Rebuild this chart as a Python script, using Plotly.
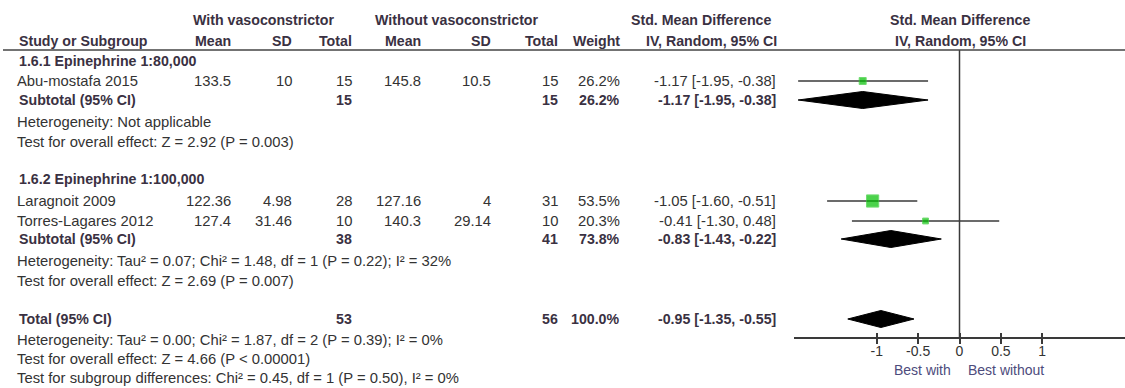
import plotly.graph_objects as go

W, H = 1125, 388

# ---- study-level data ----
studies = ["Abu-mostafa 2015", "Laragnoit 2009", "Torres-Lagares 2012"]
study_group = [0, 1, 1]
mean_with = ["133.5", "122.36", "127.4"]
sd_with = ["10", "4.98", "31.46"]
n_with = [15, 28, 10]
mean_without = ["145.8", "127.16", "140.3"]
sd_without = ["10.5", "4", "29.14"]
n_without = [15, 31, 10]
weights = [26.2, 53.5, 20.3]
smd = [-1.17, -1.05, -0.41]
ci_lo = [-1.95, -1.60, -1.30]
ci_hi = [-0.38, -0.51, 0.48]

# ---- subgroup data ----
groups = ["1.6.1 Epinephrine 1:80,000", "1.6.2 Epinephrine 1:100,000"]
sub_n_with = [15, 38]
sub_n_without = [15, 41]
sub_weight = [26.2, 73.8]
sub_smd = [-1.17, -0.83]
sub_lo = [-1.95, -1.43]
sub_hi = [-0.38, -0.22]
sub_het = ["Heterogeneity: Not applicable",
           "Heterogeneity: Tau² = 0.07; Chi² = 1.48, df = 1 (P = 0.22); I² = 32%"]
sub_test = ["Test for overall effect: Z = 2.92 (P = 0.003)",
            "Test for overall effect: Z = 2.69 (P = 0.007)"]

# ---- overall ----
tot_n_with = 53
tot_n_without = 56
tot_weight = 100.0
tot_smd = -0.95
tot_lo = -1.35
tot_hi = -0.55
tot_notes = ["Heterogeneity: Tau² = 0.00; Chi² = 1.87, df = 2 (P = 0.39); I² = 0%",
             "Test for overall effect: Z = 4.66 (P < 0.00001)",
             "Test for subgroup differences: Chi² = 0.45, df = 1 (P = 0.50), I² = 0%"]

tick_vals = [-1, -0.5, 0, 0.5, 1]
tick_text = ["-1", "-0.5", "0", "0.5", "1"]
favours = ["Best with", "Best without"]

# ---- layout of rows (pixel rows from top) ----
row_group = [61, 179]
row_study = [81, 201, 221]
row_sub = [100, 239]
row_het = [122, 261]
row_test = [142, 281]
row_total = 319
row_tot_notes = [340, 359, 378]
axis_y = 338
header_line_y = 50

FONT = "Liberation Sans, Arial, sans-serif"
TXT = "#333333"
BOLD = "#3a3142"
FAV = "#4d4b7c"
FS = 14.8
FS_B = 14.2

# column right edges
col = dict(mean1=233, sd1=294, n1=354, mean2=423, sd2=493, n2=560, wt=622, ci=778)

annotations = []


def txt(x, y, s, anchor="left", bold=False, color=None, size=None):
    annotations.append(dict(
        x=x / W, y=1 - y / H, xref="paper", yref="paper",
        text=f"<b>{s}</b>" if bold else s,
        showarrow=False, xanchor=anchor, yanchor="middle",
        font=dict(family=FONT, size=size or (FS_B if bold else FS),
                  color=color or (BOLD if bold else TXT)),
    ))


def ci_str(e, lo, hi):
    return f"{e:.2f} [{lo:.2f}, {hi:.2f}]"


# header
txt(263, 20, "With vasoconstrictor", "center", True)
txt(457, 20, "Without vasoconstrictor", "center", True)
txt(773, 20, "Std. Mean Difference", "right", True)
txt(960, 20, "Std. Mean Difference", "center", True)
txt(17, 41, "Study or Subgroup", "left", True)
for key, lab in [("mean1", "Mean"), ("sd1", "SD"), ("n1", "Total"),
                 ("mean2", "Mean"), ("sd2", "SD"), ("n2", "Total"), ("wt", "Weight")]:
    txt(col[key], 41, lab, "right", True)
txt(779, 41, "IV, Random, 95% CI", "right", True)
txt(960, 41, "IV, Random, 95% CI", "center", True)

# study rows
for i, name in enumerate(studies):
    y = row_study[i]
    txt(15, y, name)
    txt(col["mean1"], y, mean_with[i], "right")
    txt(col["sd1"], y, sd_with[i], "right")
    txt(col["n1"], y, str(n_with[i]), "right")
    txt(col["mean2"], y, mean_without[i], "right")
    txt(col["sd2"], y, sd_without[i], "right")
    txt(col["n2"], y, str(n_without[i]), "right")
    txt(col["wt"], y, f"{weights[i]:.1f}%", "right")
    txt(col["ci"], y, ci_str(smd[i], ci_lo[i], ci_hi[i]), "right")

# subgroup rows
for g, gname in enumerate(groups):
    txt(17, row_group[g], gname, "left", True)
    y = row_sub[g]
    txt(17, y, "Subtotal (95% CI)", "left", True)
    txt(col["n1"], y, str(sub_n_with[g]), "right", True)
    txt(col["n2"], y, str(sub_n_without[g]), "right", True)
    txt(col["wt"], y, f"{sub_weight[g]:.1f}%", "right", True)
    txt(col["ci"], y, ci_str(sub_smd[g], sub_lo[g], sub_hi[g]), "right", True)
    txt(15, row_het[g], sub_het[g])
    txt(15, row_test[g], sub_test[g])

# overall rows
txt(17, row_total, "Total (95% CI)", "left", True)
txt(col["n1"], row_total, str(tot_n_with), "right", True)
txt(col["n2"], row_total, str(tot_n_without), "right", True)
txt(col["wt"], row_total, f"{tot_weight:.1f}%", "right", True)
txt(col["ci"], row_total, ci_str(tot_smd, tot_lo, tot_hi), "right", True)
for y, s in zip(row_tot_notes, tot_notes):
    txt(15, y, s)

# favours labels
txt(922, 370, favours[0], "center", color=FAV, size=14)
txt(1006, 370, favours[1], "center", color=FAV, size=14)

fig = go.Figure()

# confidence interval whiskers
for i in range(len(studies)):
    fig.add_trace(go.Scatter(
        x=[ci_lo[i], ci_hi[i]], y=[row_study[i], row_study[i]],
        mode="lines", line=dict(color="#3a3a3a", width=1.5),
        hoverinfo="skip", showlegend=False))

# study squares, size by weight
fig.add_trace(go.Scatter(
    x=smd, y=row_study, mode="markers",
    marker=dict(symbol="square", color="#00c000", size=[2 + 0.19 * w for w in weights],
                line=dict(color="#33cc33", width=1)),
    hoverinfo="skip", showlegend=False))


# pooled diamonds
def diamond(e, lo, hi, y, half=8.5):
    fig.add_trace(go.Scatter(
        x=[lo, e, hi, e, lo], y=[y, y - half, y, y + half, y],
        mode="lines", fill="toself", fillcolor="#000000",
        line=dict(color="#000000", width=1), hoverinfo="skip", showlegend=False))


for g in range(len(groups)):
    diamond(sub_smd[g], sub_lo[g], sub_hi[g], row_sub[g])
diamond(tot_smd, tot_lo, tot_hi, row_total)

# line of no effect (on the overlay axis carrying the inward tick marks)
fig.add_trace(go.Scatter(
    x=[0, 0], y=[header_line_y, axis_y], xaxis="x3", yaxis="y",
    mode="lines", line=dict(color="#3a3a3a", width=1.5),
    hoverinfo="skip", showlegend=False))

axis_pos = (H - axis_y) / H
x_dom = [794 / W, 1.0]

fig.update_layout(
    width=W, height=H, margin=dict(l=0, r=0, t=0, b=0),
    paper_bgcolor="white", plot_bgcolor="rgba(0,0,0,0)",
    xaxis=dict(domain=x_dom, range=[-2, 2], anchor="free", position=axis_pos,
               showline=True, linecolor="#3a3a3a", linewidth=1.5,
               ticks="outside", ticklen=5, tickwidth=1.5, tickcolor="#3a3a3a",
               tickvals=tick_vals, ticktext=tick_text, ticklabelstandoff=-5,
               tickfont=dict(family=FONT, size=14, color=TXT),
               showgrid=False, zeroline=False, fixedrange=True),
    xaxis3=dict(domain=x_dom, range=[-2, 2], anchor="free", position=axis_pos,
                overlaying="x", showline=False, ticks="inside", ticklen=5,
                tickwidth=1.5, tickcolor="#3a3a3a", tickvals=tick_vals,
                showticklabels=False, showgrid=False, zeroline=False),
    yaxis=dict(domain=[0, 1], range=[H, 0], visible=False, fixedrange=True),
    annotations=annotations,
    shapes=[dict(type="line", xref="paper", yref="paper",
                 x0=3 / W, x1=1.0, y0=1 - header_line_y / H, y1=1 - header_line_y / H,
                 line=dict(color="#444444", width=1.5))],
)

fig.write_html("out.html")
